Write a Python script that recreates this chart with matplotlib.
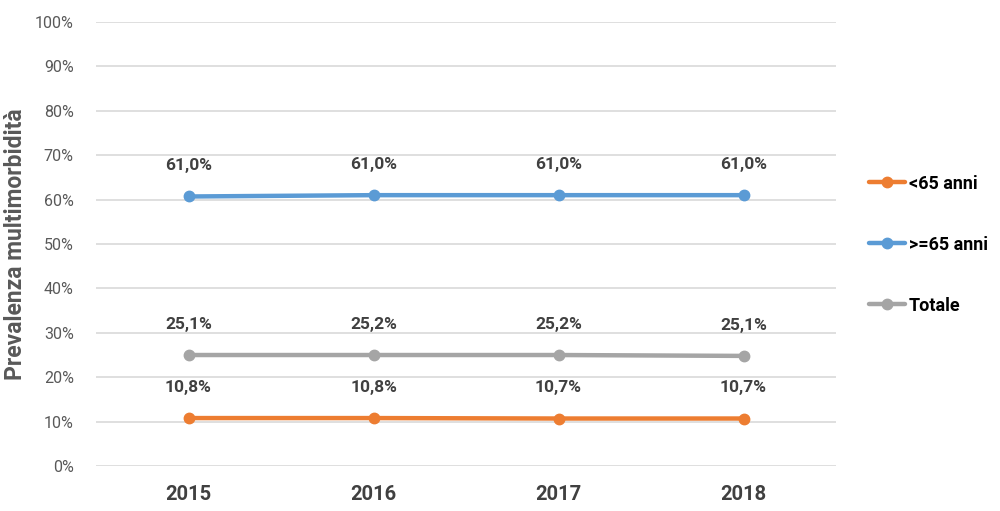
import matplotlib
matplotlib.use('Agg')
import matplotlib.pyplot as plt
import numpy as np

plt.rcParams['font.family'] = ['Roboto', 'DejaVu Sans']

years = ['2015', '2016', '2017', '2018']
under65 = [10.8, 10.8, 10.7, 10.7]
over65 = [60.7, 61.0, 61.0, 61.0]
totale = [25.0, 25.0, 25.0, 24.8]
under65_lbl = ['10,8%', '10,8%', '10,7%', '10,7%']
over65_lbl = ['61,0%', '61,0%', '61,0%', '61,0%']
totale_lbl = ['25,1%', '25,2%', '25,2%', '25,1%']

series = [
    ('<65 anni', under65, under65_lbl, '#ED7D31'),
    ('>=65 anni', over65, over65_lbl, '#5B9BD5'),
    ('Totale', totale, totale_lbl, '#A5A5A5'),
]

fig = plt.figure(figsize=(10, 5.11), dpi=100)
ax = fig.add_axes([0.096, 0.088, 0.74, 0.869])

x = np.arange(len(years))
handles = []
for name, vals, lbls, col in series:
    h, = ax.plot(x, vals, color=col, lw=3.2, marker='o', ms=7.5,
                 solid_capstyle='round', label=name, zorder=3)
    handles.append(h)
    for xi, v, t in zip(x, vals, lbls):
        ax.annotate(t, (xi, v), xytext=(0, 22), textcoords='offset points',
                    ha='center', va='center', fontsize=12.5, fontweight='bold',
                    color='#404040')

ax.set_xlim(-0.5, 3.5)
ax.set_ylim(0, 100)
ax.set_yticks(np.arange(0, 101, 10))
ax.set_yticklabels([f'{v}%' for v in range(0, 101, 10)], color='#595959',
                   fontsize=11.5)
ax.set_xticks(x)
ax.set_xticklabels(years, fontsize=14.5, fontweight='bold', color='#404040')
ax.tick_params(axis='both', length=0)
ax.tick_params(axis='y', pad=16)
ax.tick_params(axis='x', pad=14)
ax.grid(axis='y', color='#D9D9D9', lw=1.2)
ax.set_axisbelow(True)
for s in ax.spines.values():
    s.set_visible(False)

ax.set_ylabel('Prevalenza multimorbidità', fontsize=16.5, fontweight='bold',
              color='#595959', labelpad=6)

leg = fig.legend(handles=handles, loc='upper left', bbox_to_anchor=(0.853, 0.69),
                 frameon=False, labelspacing=2.38, handlelength=2.0,
                 handletextpad=0.2, prop={'weight': 'bold', 'size': 13})

fig.savefig('out.png', dpi=100)
